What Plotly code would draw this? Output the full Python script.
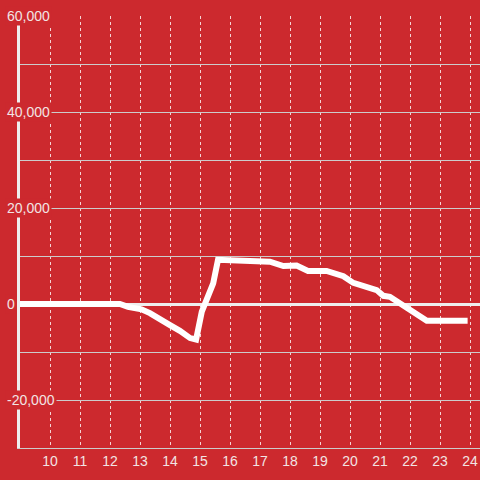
import plotly.graph_objects as go

hours = [9, 12.33, 12.6, 13.05, 13.33, 13.67, 14.0, 14.33, 14.67, 14.87, 15.06, 15.44, 15.6,
         17.33, 17.78, 18.22, 18.6, 19.22, 19.78, 20.11, 20.67, 20.89, 21.11, 21.33, 22.56, 23.92]
values = [0, 0, -600, -1100, -1900, -3300, -4400, -5600, -7100, -7400, -1600, 4300, 9200,
          8800, 7900, 8000, 6900, 6900, 5800, 4400, 3100, 2900, 1700, 1500, -3500, -3500]

x_ticks = list(range(10, 25))
y_ticks = [60000, 40000, 20000, 0, -20000]
y_tick_labels = ["60,000", "40,000", "20,000", "0", "-20,000"]

BG = "#cc292e"
FONT = "Liberation Sans"

fig = go.Figure()
fig.add_trace(go.Scatter(
    x=hours, y=values, mode="lines",
    line=dict(color="#ffffff", width=6),
    hoverinfo="skip", showlegend=False,
))

for v, t in zip(y_ticks, y_tick_labels):
    fig.add_annotation(
        x=0, xref="paper", y=v, yref="y", text=t, showarrow=False,
        xanchor="left", yanchor="middle", xshift=-15,
        font=dict(family=FONT, size=14, color="#f2e4e4"),
        bgcolor=BG, borderpad=1,
    )

fig.update_layout(
    width=480, height=480,
    margin=dict(l=20, r=0, t=16, b=32, autoexpand=False),
    paper_bgcolor=BG, plot_bgcolor=BG,
    hovermode=False,
    xaxis=dict(
        range=[9, 24.333], tickvals=x_ticks, ticktext=[str(t) for t in x_ticks],
        showgrid=True, gridcolor="rgba(255,255,255,0.8)", gridwidth=1, griddash="dot",
        showline=True, linecolor="#cccccc", linewidth=1,
        zeroline=False, ticks="", automargin=False,
        tickfont=dict(family=FONT, size=14, color="#f2e4e4"),
        fixedrange=True,
    ),
    yaxis=dict(
        range=[-30000, 60000], dtick=10000, tick0=0,
        showticklabels=False,
        showgrid=True, gridcolor="#cccccc", gridwidth=1,
        zeroline=True, zerolinecolor="#eeeeee", zerolinewidth=3,
        showline=True, linecolor="#eeeeee", linewidth=3,
        ticks="", fixedrange=True, automargin=False,
    ),
)

fig.write_html(
    "out.html",
    config={"displayModeBar": False, "staticPlot": True},
    post_script="document.body.style.margin='0px';document.body.style.overflow='hidden';",
)
